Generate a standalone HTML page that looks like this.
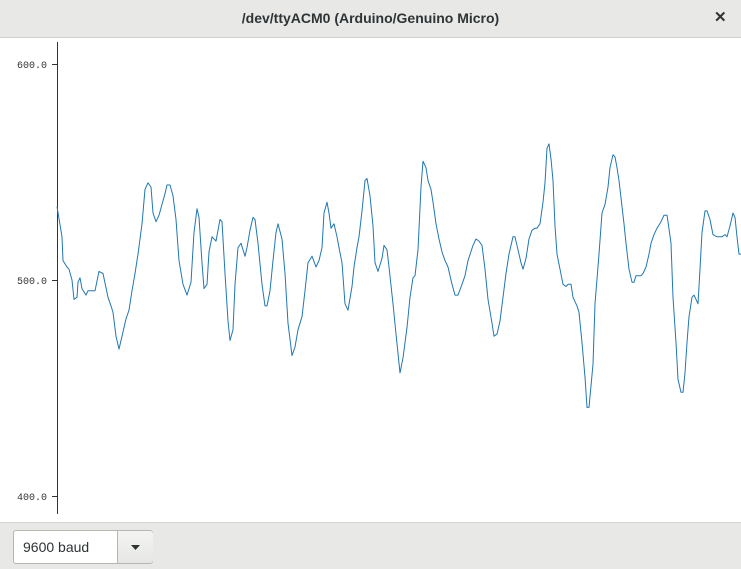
<!DOCTYPE html>
<html><head><meta charset="utf-8">
<style>
html,body{margin:0;padding:0;}
body{width:741px;height:568px;overflow:hidden;background:#fff;font-family:"Liberation Sans",sans-serif;position:relative;}
#titlebar{position:absolute;left:0;top:0;width:741px;height:37px;background:#e8e8e7;border-bottom:1px solid #cfcfcd;}
#title{position:absolute;left:0;width:741px;top:10px;text-align:center;font-size:14px;font-weight:bold;color:#2e3436;}
#close{position:absolute;left:714px;top:8px;font-size:15px;font-weight:bold;color:#2e3436;}
#bottom{position:absolute;left:0;top:522px;width:741px;height:46px;background:#e8e8e7;border-top:1px solid #d6d6d4;}
#combo{position:absolute;left:13px;top:7px;width:138px;height:32px;border:1px solid #b6b6b3;border-radius:3px;background:#fff;}
#combo-text{position:absolute;left:9px;top:8px;font-size:14px;color:#2e3436;}
#combo-btn{position:absolute;left:103px;top:0;width:35px;height:32px;border-left:1px solid #b6b6b3;background:linear-gradient(#f4f4f3,#e6e6e4);border-radius:0 3px 3px 0;}
#plot{position:absolute;left:0;top:38px;}
</style></head>
<body>
<div id="titlebar">
  <div id="title">/dev/ttyACM0 (Arduino/Genuino Micro)</div>
  <div id="close">✕</div>
</div>
<svg id="plot" width="741" height="484"></svg>
<div id="bottom">
  <div id="combo">
    <div id="combo-text">9600 baud</div>
    <div id="combo-btn">
      <svg width="35" height="32"><path d="M13 14 L22 14 L17.5 19 Z" fill="#2e3436"/></svg>
    </div>
  </div>
</div>
<script>
const samples=[0,5,6,10,12,15,17,20,21,23,25,29,31,35,38,42,46,51,54,56,59,62,65,69,72,75,78,81,85,88,91,94,96,99,102,105,108,110,113,116,119,122,126,130,134,137,140,142,145,147,150,152,155,159,161,163,165,168,171,173,
176,178,181,184,188,190,193,196,198,201,205,208,210,213,216,219,221,225,228,231,235,238,241,245,248,251,255,259,262,265,267,270,272,274,277,280,282,285,288,291,295,297,300,302,305,308,310,313,316,318,321,325,327,330,332,336,339,343,
346,350,353,356,358,361,364,366,369,371,374,376,379,382,385,388,391,395,398,401,405,408,411,416,419,422,425,428,431,435,437,440,443,446,449,452,456,458,461,464,466,469,472,475,478,480,483,486,488,490,492,494,496,498,500,503,506,509,511,514,
516,520,522,525,528,530,532,536,538,542,545,548,551,553,556,558,560,562,565,567,569,572,575,577,579,581,584,586,589,592,594,597,600,604,607,610,611,614,616,619,621,624,626,628,630,632,635,637,639,641,643,645,648,650,653,656,660,665,668,670,673,676,678,680,682,684];
const values=[534,520,509,506,505,500,491,492,499,501,496,493,495,495,495,504,503,492,488,485,474,468,474,482,486,495,503,512,526,542,545,543,531,527,530,535,540,544,544,539,528,509,498,493,499,522,533,529,508,496,498,513,520,518,523,528,527,503,481,472,
477,498,515,517,511,515,523,529,528,517,498,488,488,495,509,522,526,519,503,480,465,469,477,483,495,508,511,506,509,515,531,536,531,524,526,520,515,508,489,486,497,506,515,520,532,546,547,539,525,508,504,510,516,514,506,489,475,457,
464,478,492,501,502,514,543,555,552,546,542,536,526,519,513,509,506,498,493,493,498,502,509,516,519,518,516,505,491,480,474,475,481,492,503,512,520,520,514,508,505,510,519,523,524,524,526,536,545,561,563,556,546,525,512,505,498,497,498,498,
492,488,485,471,455,441,441,461,489,512,531,535,543,552,558,557,552,546,534,526,517,505,499,499,502,502,502,503,506,512,517,521,524,527,530,530,527,517,492,471,454,448,448,457,471,483,492,493,491,489,505,522,532,532,528,521,520,520,521,520,525,531,529,520,512,512];
const yTicks=[400,500,600];
const yTickLabels=["400.0","500.0","600.0"];
const NS="http://www.w3.org/2000/svg";
const svg=document.getElementById('plot');
const top0=-38;
function yPx(v){return 280+top0-(v-500)*2.16;}
function xPx(t){return 57+t;}
const axis=document.createElementNS(NS,'line');


axis.setAttribute('x1',57.5);axis.setAttribute('x2',57.5);axis.setAttribute('y1',4);axis.setAttribute('y2',476);
axis.setAttribute('stroke','#333');axis.setAttribute('stroke-width',1);
svg.appendChild(axis);
yTicks.forEach((v,i)=>{
  const y=Math.round(yPx(v))+0.5;
  const tk=document.createElementNS(NS,'line');
  
  
  tk.setAttribute('x1',52);tk.setAttribute('x2',57);tk.setAttribute('y1',y);tk.setAttribute('y2',y);
  tk.setAttribute('stroke','#333');
  svg.appendChild(tk);
  const tx=document.createElementNS(NS,'text');
  
  
  tx.setAttribute('x',47);tx.setAttribute('y',y+3.5);
  tx.setAttribute('text-anchor','end');
  tx.setAttribute('font-family','"Liberation Mono",monospace');
  tx.setAttribute('font-size','10');
  tx.setAttribute('fill','#333');
  tx.textContent=yTickLabels[i];
  svg.appendChild(tx);
});
const pts=samples.map((t,i)=>xPx(t).toFixed(1)+','+yPx(values[i]).toFixed(1)).join(' ');
const line=document.createElementNS(NS,'polyline');


line.setAttribute('points',pts);
line.setAttribute('fill','none');
line.setAttribute('stroke','#1f77b4');
line.setAttribute('stroke-width','1');
line.setAttribute('stroke-linejoin','round');
svg.appendChild(line);
</script>
</body></html>
